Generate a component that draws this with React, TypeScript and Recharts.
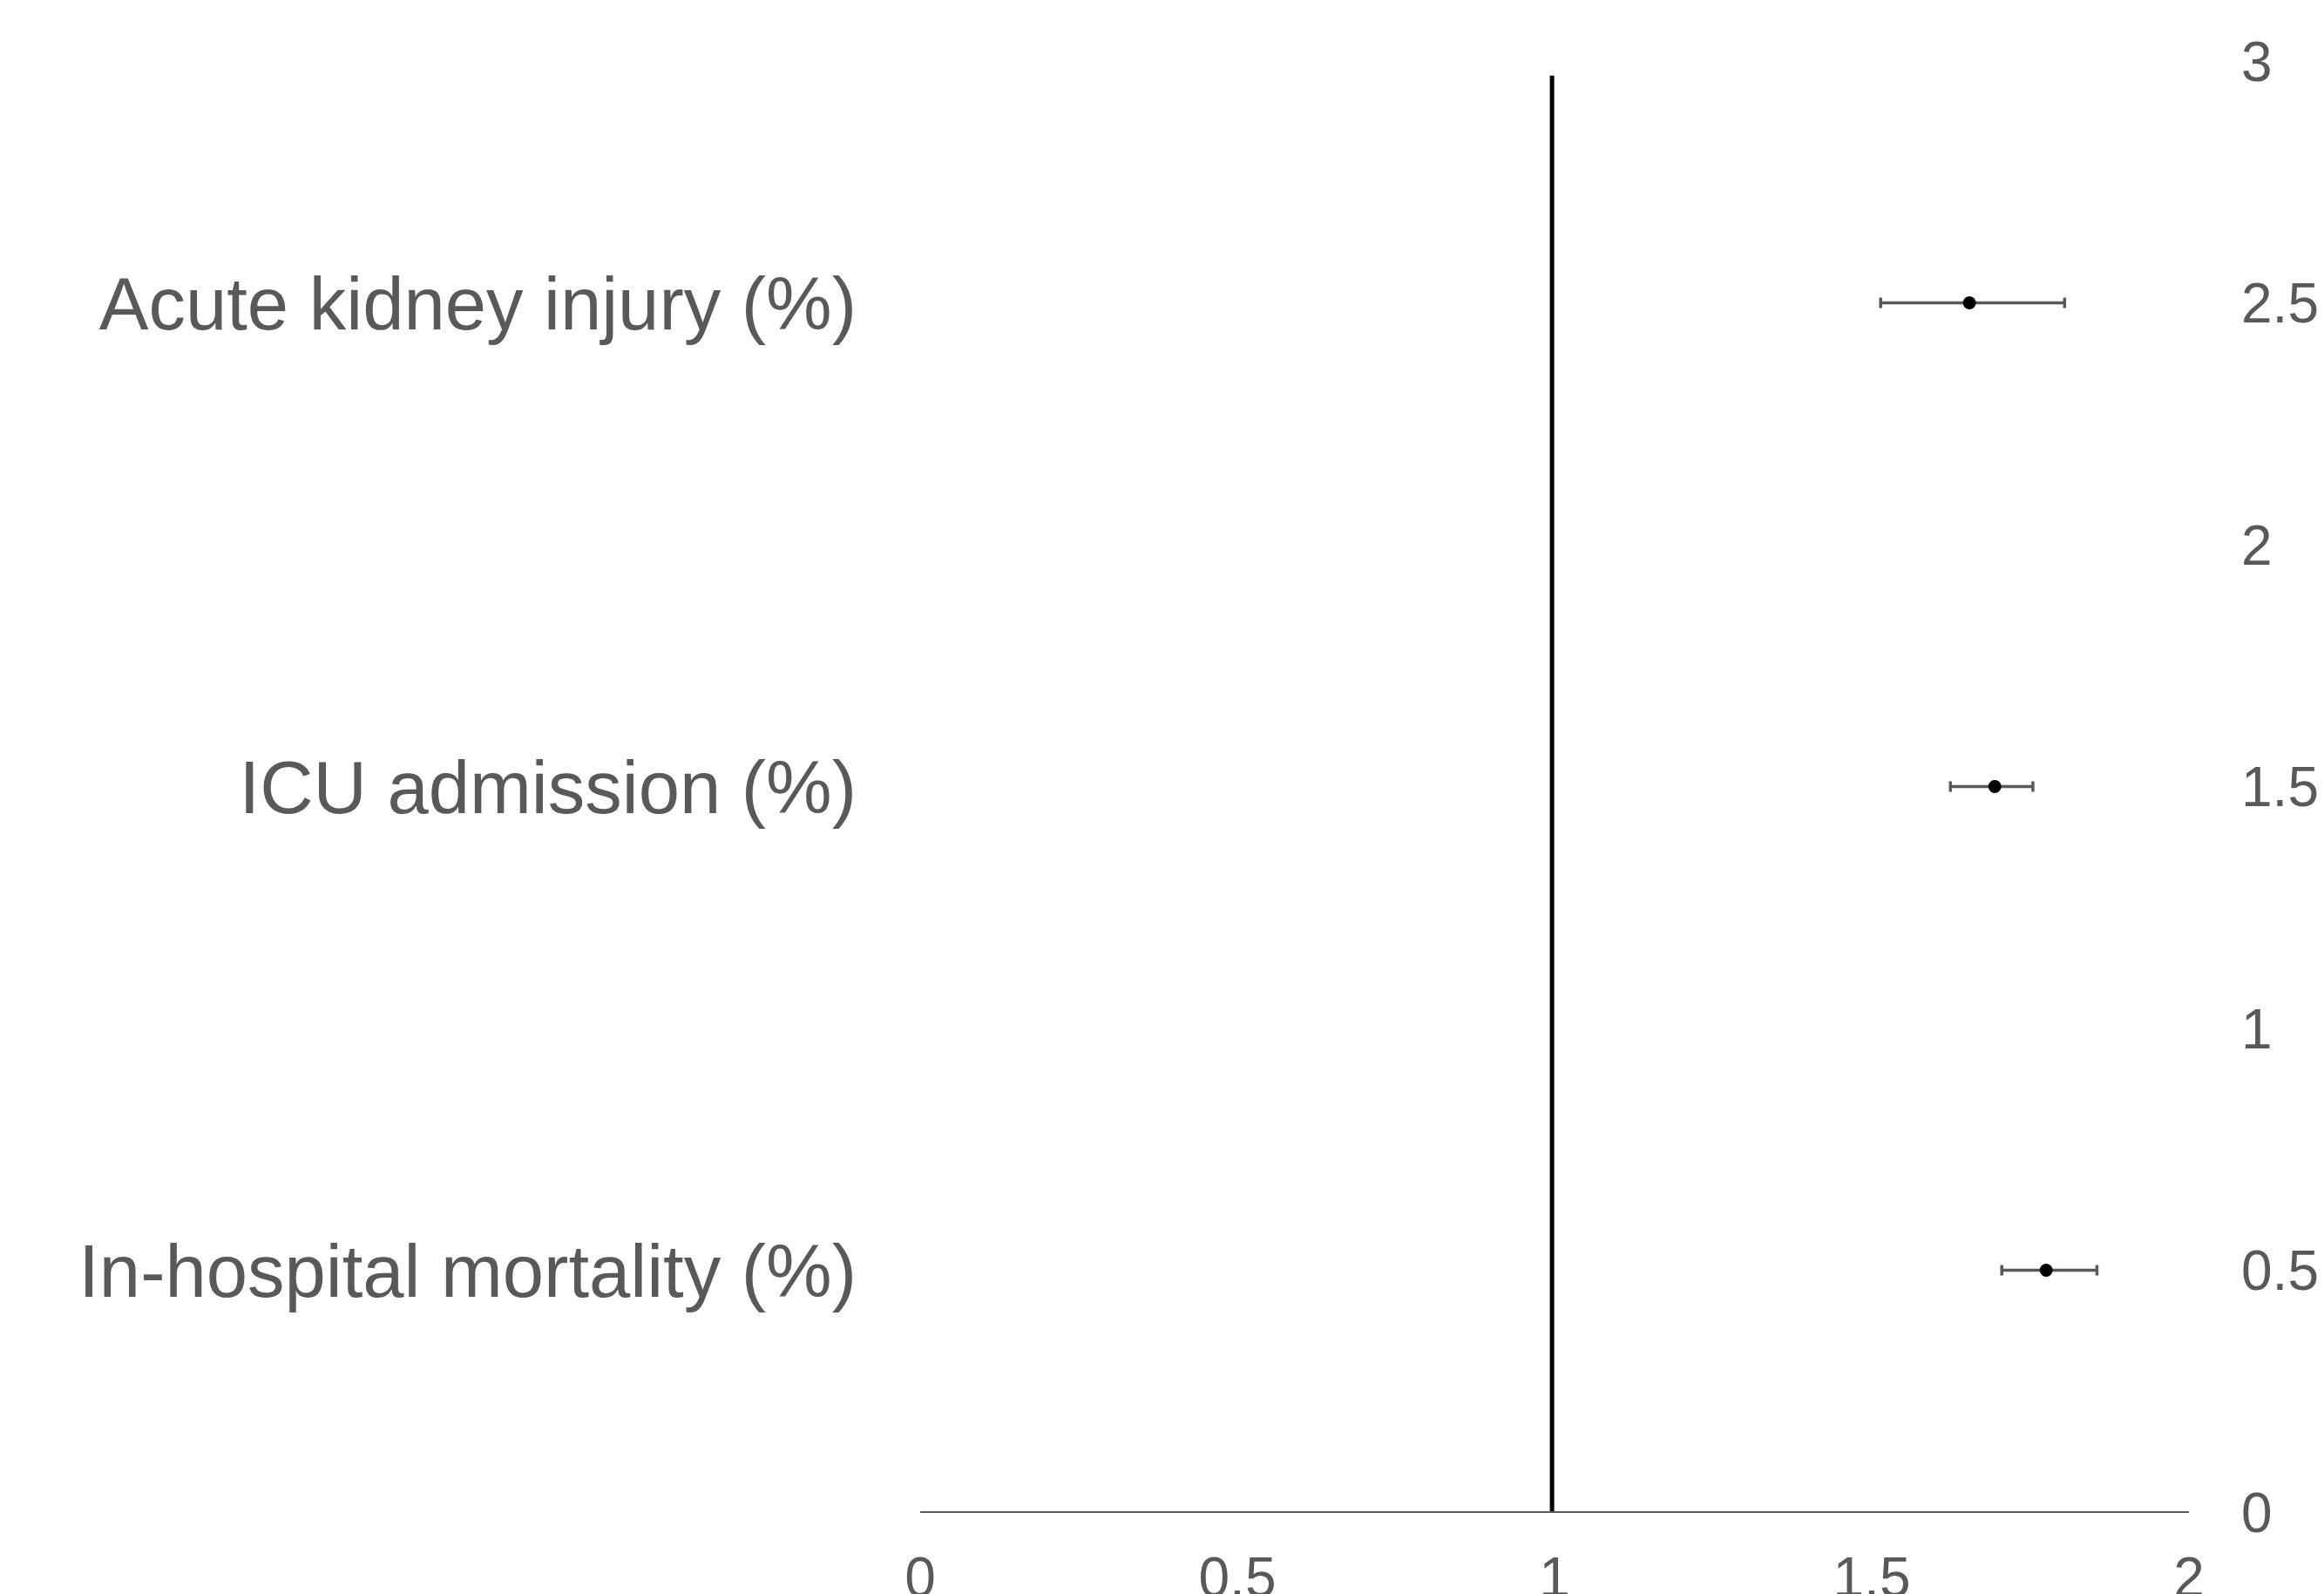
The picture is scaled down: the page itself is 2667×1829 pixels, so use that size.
import {
  ScatterChart,
  Scatter,
  XAxis,
  YAxis,
  ErrorBar,
  ReferenceLine,
} from "recharts";

const outcomes = [
  "In-hospital mortality (%)",
  "ICU admission (%)",
  "Acute kidney injury (%)",
];
const rowPositions = [0.5, 1.5, 2.5];
const oddsRatio = [1.775, 1.694, 1.654];
const ciLower = [1.705, 1.624, 1.514];
const ciUpper = [1.855, 1.754, 1.804];

const xTicks = [0, 0.5, 1, 1.5, 2];
const yTicks = [0, 0.5, 1, 1.5, 2, 2.5, 3];

const textColor = "#595959";
const font = "'Liberation Sans', Arial, sans-serif";

const points = outcomes.map((name, i) => ({
  name,
  x: oddsRatio[i],
  y: rowPositions[i],
  err: [oddsRatio[i] - ciLower[i], ciUpper[i] - oddsRatio[i]],
}));

const labelFor = (v: number) => {
  const i = rowPositions.indexOf(v);
  return i >= 0 ? outcomes[i] : "";
};

const Dot = (props: any) => (
  <circle cx={props.cx} cy={props.cy} r={7.5} fill="#000" />
);

// invisible marks so the category axis has something bound to it
const Nothing = () => <g />;

const App = () => {
  return (
    <div style={{ position: "absolute", left: 0, top: 0, fontFamily: font }}>
      <ScatterChart
        width={2667}
        height={1829}
        margin={{ top: 70, right: 0, left: 0, bottom: 0 }}
      >
        <XAxis
          type="number"
          dataKey="x"
          domain={[0, 2]}
          ticks={xTicks}
          height={94}
          axisLine={{ stroke: textColor, strokeWidth: 2 }}
          tickLine={false}
          tickMargin={46}
          tick={{ fill: textColor, fontSize: 64, fontFamily: font }}
        />
        <YAxis
          yAxisId="cat"
          orientation="left"
          type="number"
          dataKey="y"
          domain={[0, 3]}
          ticks={rowPositions}
          tickFormatter={labelFor}
          interval={0}
          width={1056}
          axisLine={false}
          tickLine={false}
          tickMargin={67}
          tick={{ fill: textColor, fontSize: 85, fontFamily: font }}
        />
        <YAxis
          yAxisId="val"
          orientation="right"
          type="number"
          dataKey="y"
          domain={[0, 3]}
          ticks={yTicks}
          interval={0}
          width={155}
          axisLine={false}
          tickLine={false}
          tickMargin={54}
          tick={{ fill: textColor, fontSize: 64, fontFamily: font }}
        />
        <ReferenceLine
          yAxisId="val"
          segment={[
            { x: 0.996, y: 0 },
            { x: 0.996, y: 2.97 },
          ]}
          stroke="#000"
          strokeWidth={5}
        />
        <Scatter
          yAxisId="cat"
          data={points}
          shape={<Nothing />}
          isAnimationActive={false}
        />
        <Scatter
          yAxisId="val"
          data={points}
          shape={<Dot />}
          isAnimationActive={false}
        >
          <ErrorBar
            dataKey="err"
            direction="x"
            width={6}
            stroke={textColor}
            strokeWidth={3.5}
            isAnimationActive={false}
          />
        </Scatter>
      </ScatterChart>
    </div>
  );
};

export default App;
